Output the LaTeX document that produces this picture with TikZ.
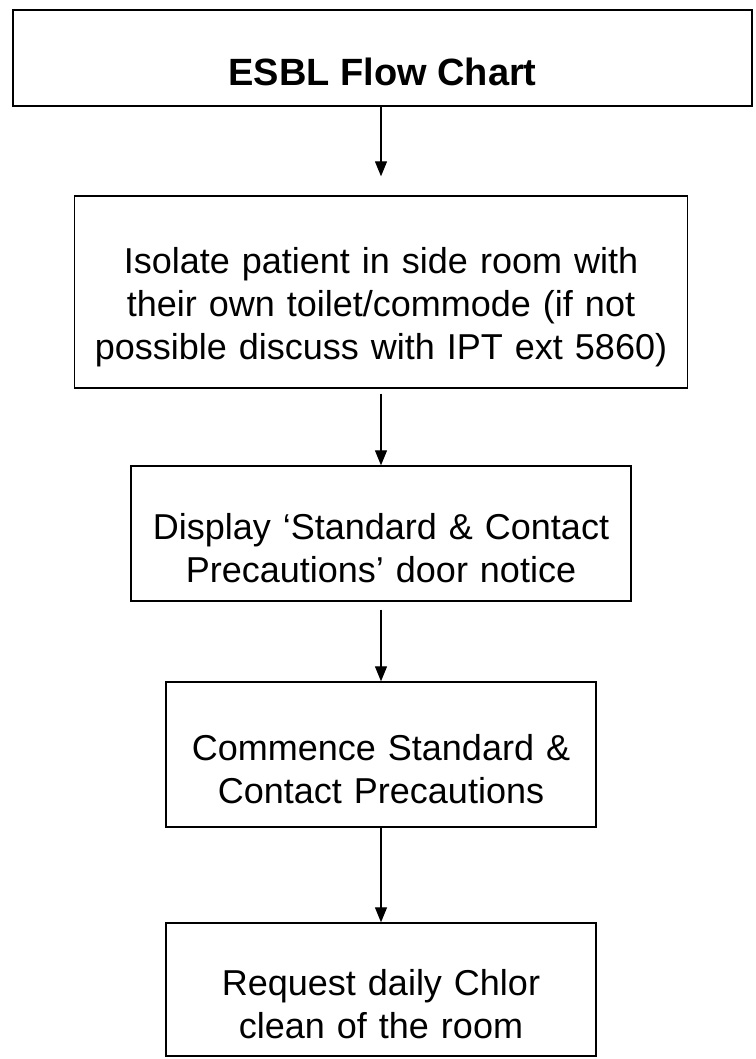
\documentclass[tikz,border=0pt]{standalone}
\usepackage{fontspec}
\setmainfont{Liberation Sans}
\usetikzlibrary{arrows.meta}

\begin{document}
\begin{tikzpicture}[x=0.5pt,y=-0.5pt,
  titlebox/.style={draw,line width=1pt,inner sep=0pt,font=\fontsize{19}{23}\bfseries,
    execute at begin node={\rule{0pt}{28pt}}},
  flowbox/.style={draw,line width=0.7pt,inner sep=0pt,align=center,
    font=\fontsize{18}{21.5}\selectfont,execute at begin node={\rule{0pt}{28pt}}},
  flow/.style={-{Triangle[width=6pt,length=7.5pt]},line width=0.65pt}]
\useasboundingbox (0,0) rectangle (755,1059);

\node[titlebox,minimum width=369.5pt,minimum height=48pt] (title) at (382.5,58) {ESBL Flow Chart};

\node[flowbox,minimum width=306.5pt,text width=306.5pt,minimum height=96pt] (isolate) at (381,292)
  {Isolate patient in side room with\\their own toilet/commode (if not\\possible discuss with IPT ext 5860)};
\node[flowbox,minimum width=250pt,text width=250pt,minimum height=67.5pt] (notice) at (381,533.5)
  {Display ‘Standard \& Contact\\Precautions’ door notice};
\node[flowbox,minimum width=215pt,text width=215pt,minimum height=72.5pt] (commence) at (381,754.5)
  {Commence Standard \&\\Contact Precautions};
\node[flowbox,minimum width=215pt,text width=215pt,minimum height=66.5pt] (chlor) at (381,989.5)
  {Request daily Chlor\\clean of the room};

% arrows between the steps
\draw[flow,shorten >=9.5pt] (title.south -| isolate.north) -- (isolate.north);
\draw[flow,shorten <=2.5pt] (isolate.south) -- (notice.north);
\draw[flow,shorten <=4pt] (notice.south) -- (commence.north);
\draw[flow] (commence.south) -- (chlor.north);
\end{tikzpicture}
\end{document}
